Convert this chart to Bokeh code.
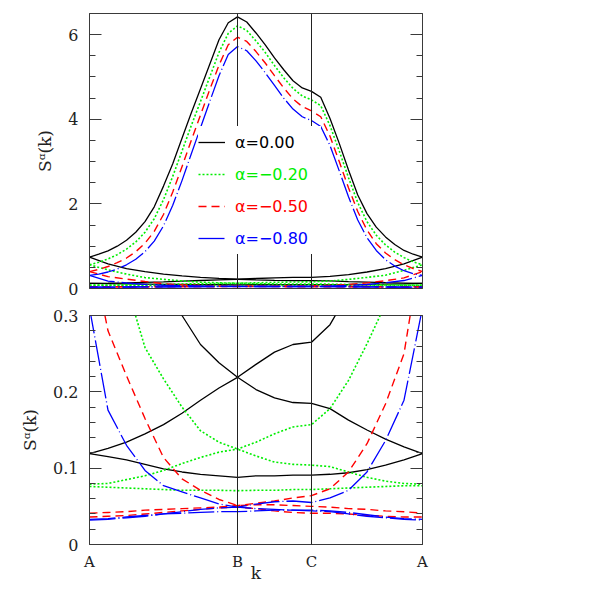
from bokeh.plotting import figure
from bokeh.models import Range1d, LinearAxis, FixedTicker, Span, Legend, LegendItem
from bokeh.layouts import column
from bokeh.embed import file_html
from bokeh.resources import INLINE

# k-path: A -> B -> C -> A  (path coordinate, A=0, B=4, C=6, A=9)
k_ticks = [0, 4, 6, 9]
k_labels = ["A", "B", "C", "A"]
x_fine = [i * 0.25 for i in range(37)]
x_coarse = [i * 0.5 for i in range(19)]

alpha_labels = ["α=0.00", "α=−0.20", "α=−0.50", "α=−0.80"]

# upper (large) branch of S^alpha(k), fine grid
peak_000 = [0.74, 0.81, 0.89, 1.00, 1.14, 1.33, 1.58, 1.93, 2.42, 2.95, 3.55, 4.15, 4.72, 5.30, 5.88, 6.28, 6.42,
            6.30, 6.04, 5.76, 5.45, 5.17, 4.91, 4.74, 4.66, 4.52, 4.02, 3.43, 2.80, 2.21, 1.77, 1.45, 1.22, 1.04, 0.90, 0.81, 0.74]
peak_020 = [0.56, 0.62, 0.70, 0.80, 0.93, 1.10, 1.33, 1.65, 2.10, 2.65, 3.25, 3.85, 4.42, 5.00, 5.58, 6.03, 6.21,
            6.10, 5.85, 5.58, 5.27, 4.98, 4.73, 4.55, 4.46, 4.32, 3.85, 3.25, 2.62, 2.03, 1.58, 1.26, 1.03, 0.86, 0.73, 0.63, 0.56]
peak_050 = [0.40, 0.45, 0.52, 0.61, 0.72, 0.87, 1.07, 1.35, 1.75, 2.28, 2.88, 3.50, 4.10, 4.70, 5.28, 5.76, 5.94,
            5.84, 5.60, 5.33, 5.03, 4.74, 4.48, 4.30, 4.20, 4.06, 3.60, 3.00, 2.38, 1.82, 1.38, 1.06, 0.84, 0.68, 0.56, 0.47, 0.40]
peak_080 = [0.31, 0.34, 0.39, 0.46, 0.56, 0.69, 0.87, 1.12, 1.48, 1.97, 2.55, 3.18, 3.80, 4.42, 5.03, 5.53, 5.72,
            5.62, 5.38, 5.10, 4.80, 4.50, 4.24, 4.06, 3.97, 3.83, 3.38, 2.78, 2.17, 1.62, 1.20, 0.90, 0.68, 0.53, 0.42, 0.35, 0.31]

# lower branches, coarse grid
low1_000 = [0.74, 0.58, 0.47, 0.40, 0.34, 0.30, 0.262, 0.238, 0.219, 0.203, 0.192, 0.186, 0.185, 0.178, 0.163, 0.150, 0.138, 0.128, 0.119]
low2_000 = [0.119, 0.126, 0.134, 0.145, 0.157, 0.172, 0.189, 0.205, 0.219, 0.236, 0.252, 0.262, 0.265, 0.288, 0.33, 0.39, 0.47, 0.58, 0.74]
low3_000 = [0.119, 0.115, 0.111, 0.105, 0.099, 0.095, 0.092, 0.090, 0.088, 0.090, 0.090, 0.091, 0.091, 0.092, 0.094, 0.098, 0.104, 0.111, 0.119]

low1_020 = [0.56, 0.44, 0.34, 0.258, 0.217, 0.18, 0.149, 0.134, 0.125, 0.116, 0.108, 0.105, 0.104, 0.102, 0.095, 0.088, 0.083, 0.080, 0.079]
low2_020 = [0.079, 0.080, 0.085, 0.090, 0.097, 0.106, 0.114, 0.121, 0.125, 0.134, 0.145, 0.154, 0.157, 0.178, 0.215, 0.263, 0.315, 0.43, 0.56]
low3_020 = [0.076, 0.075, 0.074, 0.073, 0.072, 0.071, 0.071, 0.071, 0.0705, 0.071, 0.071, 0.072, 0.072, 0.073, 0.074, 0.075, 0.076, 0.077, 0.077]

low1_050 = [0.40, 0.28, 0.221, 0.165, 0.114, 0.086, 0.071, 0.059, 0.051, 0.052, 0.052, 0.051, 0.050, 0.049, 0.047, 0.046, 0.044, 0.043, 0.041]
low2_050 = [0.041, 0.042, 0.043, 0.045, 0.046, 0.047, 0.048, 0.049, 0.051, 0.054, 0.057, 0.061, 0.064, 0.073, 0.095, 0.132, 0.184, 0.25, 0.40]
low3_050 = [0.036, 0.037, 0.038, 0.040, 0.042, 0.044, 0.046, 0.048, 0.049, 0.047, 0.044, 0.042, 0.041, 0.041, 0.040, 0.038, 0.037, 0.036, 0.036]

low1_080 = [0.31, 0.176, 0.130, 0.097, 0.077, 0.069, 0.061, 0.053, 0.049, 0.047, 0.046, 0.045, 0.044, 0.043, 0.040, 0.037, 0.035, 0.033, 0.032]
low2_080 = [0.032, 0.033, 0.035, 0.037, 0.040, 0.043, 0.046, 0.048, 0.049, 0.053, 0.056, 0.057, 0.055, 0.061, 0.071, 0.095, 0.136, 0.189, 0.31]
low3_080 = [0.033, 0.034, 0.036, 0.038, 0.040, 0.041, 0.042, 0.043, 0.043, 0.044, 0.045, 0.045, 0.045, 0.044, 0.042, 0.039, 0.036, 0.034, 0.033]

peaks = [peak_000, peak_020, peak_050, peak_080]
lows = [[low1_000, low2_000, low3_000], [low1_020, low2_020, low3_020],
        [low1_050, low2_050, low3_050], [low1_080, low2_080, low3_080]]

colors = ["#000000", "#00ee00", "#ff0000", "#0000ff"]
dashes = ["solid", "2 2", "8 5", "26 3 1 3"]
widths = [1.3, 1.6, 1.4, 1.3]

SERIF = "DejaVu Serif"
AXC = "#3a3a3a"

top_ticks = [0, 2, 4, 6]
top_minor = [0.5, 1, 1.5, 2.5, 3, 3.5, 4.5, 5, 5.5, 6.5]
bot_ticks = [0, 0.1, 0.2, 0.3]
bot_minor = [0.02, 0.04, 0.06, 0.08, 0.12, 0.14, 0.16, 0.18, 0.22, 0.24, 0.26, 0.28]


def style_yaxis(ax, ticks, minor, overrides, show_labels=True):
    ax.ticker = FixedTicker(ticks=ticks, minor_ticks=minor)
    ax.axis_line_color = AXC
    ax.major_tick_line_color = AXC
    ax.minor_tick_line_color = AXC
    ax.major_tick_in = 12
    ax.major_tick_out = 0
    ax.minor_tick_in = 6
    ax.minor_tick_out = 0
    ax.major_label_standoff = 11
    ax.major_label_text_font = SERIF
    ax.major_label_text_font_size = "16px"
    ax.major_label_text_color = "#222222"
    if show_labels:
        ax.major_label_overrides = overrides
    else:
        ax.major_label_overrides = {t: "" for t in ticks}
    ax.axis_label_text_font = SERIF
    ax.axis_label_text_font_style = "normal"
    ax.axis_label_text_font_size = "17px"
    ax.axis_label_text_color = "#222222"
    ax.axis_label_standoff = 10


def make_panel(height, ymax, top_b, bot_b, with_x):
    p = figure(width=442, height=height, output_backend="svg", toolbar_location=None,
               x_range=Range1d(0, 9), y_range=Range1d(0, ymax),
               x_axis_location=("below" if with_x else None),
               min_border_left=89, min_border_right=20,
               min_border_top=top_b, min_border_bottom=bot_b)
    p.xgrid.visible = False
    p.ygrid.visible = False
    p.outline_line_color = AXC
    p.outline_line_width = 1
    p.background_fill_color = "white"
    p.border_fill_color = "white"
    for i in range(4):
        for band in lows[i]:
            p.line(x_coarse, band, line_color=colors[i], line_dash=dashes[i], line_width=widths[i])
    rs = []
    for i in range(4):
        rs.append(p.line(x_fine, peaks[i], line_color=colors[i], line_dash=dashes[i], line_width=widths[i]))
    for loc in k_ticks[1:3]:
        p.add_layout(Span(location=loc, dimension="height", line_color="#222222", line_width=1))
    return p, rs


# ---------- top panel ----------
p1, rs1 = make_panel(302, 6.5, 13, 14, False)
style_yaxis(p1.yaxis[0], top_ticks, top_minor, {})
p1.yaxis[0].axis_label = "Sᵅ(k)"
ra1 = LinearAxis()
style_yaxis(ra1, top_ticks, top_minor, {}, show_labels=False)
p1.add_layout(ra1, "right")

leg_y = [130, 98, 66, 34]
for i in range(4):
    lg = Legend(items=[LegendItem(label=alpha_labels[i], renderers=[rs1[i]])],
                location=(109, leg_y[i]), padding=0, margin=0, spacing=0,
                glyph_width=27, glyph_height=32, label_height=32, label_width=86,
                label_standoff=10, label_text_font="DejaVu Sans", label_text_font_size="16px",
                label_text_color=colors[i], border_line_color=None,
                background_fill_color="white", background_fill_alpha=1.0)
    p1.add_layout(lg)

# ---------- bottom panel ----------
p2, rs2 = make_panel(286, 0.3, 13, 44, True)
style_yaxis(p2.yaxis[0], bot_ticks, bot_minor, {0: "0"})
p2.yaxis[0].axis_label = "Sᵅ(k)"
ra2 = LinearAxis()
style_yaxis(ra2, bot_ticks, bot_minor, {}, show_labels=False)
p2.add_layout(ra2, "right")

xa = p2.xaxis[0]
xa.ticker = FixedTicker(ticks=k_ticks)
xa.major_label_overrides = {t: l for t, l in zip(k_ticks, k_labels)}
xa.major_tick_in = 0
xa.major_tick_out = 0
xa.minor_tick_in = 0
xa.minor_tick_out = 0
xa.axis_line_color = AXC
xa.major_label_standoff = 8
xa.major_label_text_font = SERIF
xa.major_label_text_font_size = "15px"
xa.major_label_text_color = "#222222"
xa.axis_label = "k"
xa.axis_label_text_font = SERIF
xa.axis_label_text_font_style = "normal"
xa.axis_label_text_font_size = "17px"
xa.axis_label_text_color = "#222222"
xa.axis_label_standoff = -11

layout = column(p1, p2, spacing=0)
open("out.html", "w").write(file_html(layout, INLINE))
